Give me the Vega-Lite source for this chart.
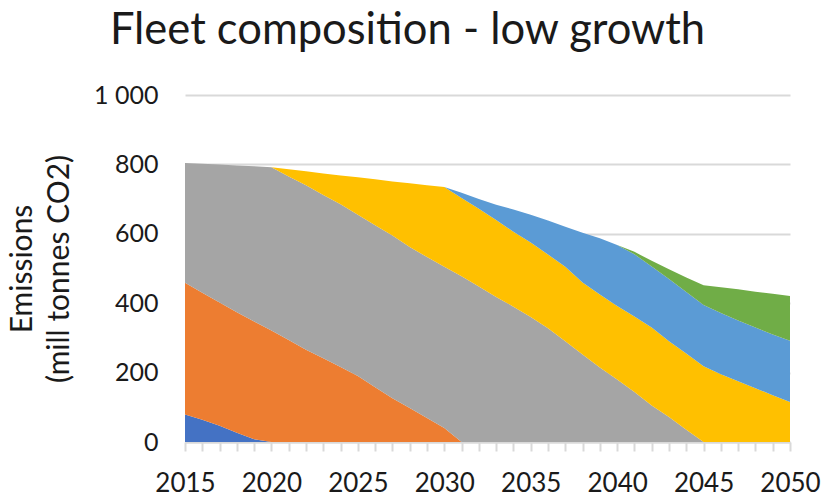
{
  "$schema": "https://vega.github.io/schema/vega-lite/v6.json",
  "autosize": "none",
  "width": 605,
  "height": 347,
  "padding": {"left": 185, "top": 95, "right": 35, "bottom": 59},
  "background": "white",
  "config": {"font": "Lato", "view": {"stroke": null}},
  "title": {
    "text": "Fleet composition - low growth",
    "fontSize": 43.5,
    "fontWeight": "normal",
    "color": "#1a1a1a",
    "anchor": "middle",
    "frame": "group",
    "dx": -80,
    "dy": -26
  },
  "data": {
    "values": [
      {"year": 2015, "Series1": 79, "Series2": 380, "Series3": 345, "Series4": 0, "Series5": 0, "Series6": 0},
      {"year": 2016, "Series1": 64, "Series2": 366, "Series3": 372, "Series4": 0, "Series5": 0, "Series6": 0},
      {"year": 2017, "Series1": 47, "Series2": 355, "Series3": 398, "Series4": 0, "Series5": 0, "Series6": 0},
      {"year": 2018, "Series1": 27, "Series2": 347, "Series3": 423, "Series4": 0, "Series5": 0, "Series6": 0},
      {"year": 2019, "Series1": 8, "Series2": 339, "Series3": 448, "Series4": 0, "Series5": 0, "Series6": 0},
      {"year": 2020, "Series1": 0, "Series2": 321, "Series3": 471, "Series4": 0, "Series5": 0, "Series6": 0},
      {"year": 2021, "Series1": 0, "Series2": 294, "Series3": 471, "Series4": 21, "Series5": 0, "Series6": 0},
      {"year": 2022, "Series1": 0, "Series2": 266, "Series3": 474, "Series4": 40, "Series5": 0, "Series6": 0},
      {"year": 2023, "Series1": 0, "Series2": 241, "Series3": 471, "Series4": 62, "Series5": 0, "Series6": 0},
      {"year": 2024, "Series1": 0, "Series2": 216, "Series3": 469, "Series4": 83, "Series5": 0, "Series6": 0},
      {"year": 2025, "Series1": 0, "Series2": 190, "Series3": 465, "Series4": 108, "Series5": 0, "Series6": 0},
      {"year": 2026, "Series1": 0, "Series2": 158, "Series3": 467, "Series4": 132, "Series5": 0, "Series6": 0},
      {"year": 2027, "Series1": 0, "Series2": 126, "Series3": 469, "Series4": 156, "Series5": 0, "Series6": 0},
      {"year": 2028, "Series1": 0, "Series2": 98, "Series3": 464, "Series4": 184, "Series5": 0, "Series6": 0},
      {"year": 2029, "Series1": 0, "Series2": 69, "Series3": 464, "Series4": 207, "Series5": 0, "Series6": 0},
      {"year": 2030, "Series1": 0, "Series2": 40, "Series3": 465, "Series4": 230, "Series5": 0, "Series6": 0},
      {"year": 2031, "Series1": 0, "Series2": 0, "Series3": 478, "Series4": 225, "Series5": 15, "Series6": 0},
      {"year": 2032, "Series1": 0, "Series2": 0, "Series3": 448, "Series4": 224, "Series5": 28, "Series6": 0},
      {"year": 2033, "Series1": 0, "Series2": 0, "Series3": 418, "Series4": 222, "Series5": 44, "Series6": 0},
      {"year": 2034, "Series1": 0, "Series2": 0, "Series3": 390, "Series4": 216, "Series5": 64, "Series6": 0},
      {"year": 2035, "Series1": 0, "Series2": 0, "Series3": 360, "Series4": 215, "Series5": 80, "Series6": 0},
      {"year": 2036, "Series1": 0, "Series2": 0, "Series3": 328, "Series4": 212, "Series5": 98, "Series6": 0},
      {"year": 2037, "Series1": 0, "Series2": 0, "Series3": 290, "Series4": 215, "Series5": 115, "Series6": 0},
      {"year": 2038, "Series1": 0, "Series2": 0, "Series3": 252, "Series4": 208, "Series5": 143, "Series6": 0},
      {"year": 2039, "Series1": 0, "Series2": 0, "Series3": 215, "Series4": 210, "Series5": 162, "Series6": 0},
      {"year": 2040, "Series1": 0, "Series2": 0, "Series3": 180, "Series4": 212, "Series5": 176, "Series6": 0},
      {"year": 2041, "Series1": 0, "Series2": 0, "Series3": 144, "Series4": 218, "Series5": 179, "Series6": 7},
      {"year": 2042, "Series1": 0, "Series2": 0, "Series3": 105, "Series4": 225, "Series5": 176, "Series6": 16},
      {"year": 2043, "Series1": 0, "Series2": 0, "Series3": 72, "Series4": 218, "Series5": 180, "Series6": 28},
      {"year": 2044, "Series1": 0, "Series2": 0, "Series3": 35, "Series4": 220, "Series5": 177, "Series6": 42},
      {"year": 2045, "Series1": 0, "Series2": 0, "Series3": 0, "Series4": 218, "Series5": 177, "Series6": 57},
      {"year": 2046, "Series1": 0, "Series2": 0, "Series3": 0, "Series4": 195, "Series5": 177, "Series6": 74},
      {"year": 2047, "Series1": 0, "Series2": 0, "Series3": 0, "Series4": 175, "Series5": 175, "Series6": 90},
      {"year": 2048, "Series1": 0, "Series2": 0, "Series3": 0, "Series4": 155, "Series5": 175, "Series6": 103},
      {"year": 2049, "Series1": 0, "Series2": 0, "Series3": 0, "Series4": 135, "Series5": 175, "Series6": 117},
      {"year": 2050, "Series1": 0, "Series2": 0, "Series3": 0, "Series4": 115, "Series5": 177, "Series6": 129}
    ]
  },
  "transform": [
    {"fold": ["Series1", "Series2", "Series3", "Series4", "Series5", "Series6"], "as": ["series", "value"]}
  ],
  "mark": {"type": "area", "opacity": 1},
  "encoding": {
    "x": {
      "field": "year",
      "type": "quantitative",
      "scale": {"domain": [2015, 2050], "nice": false, "zero": false},
      "axis": {
        "title": null,
        "values": [2015, 2016, 2017, 2018, 2019, 2020, 2021, 2022, 2023, 2024, 2025, 2026, 2027, 2028, 2029, 2030, 2031, 2032, 2033, 2034, 2035, 2036, 2037, 2038, 2039, 2040, 2041, 2042, 2043, 2044, 2045, 2046, 2047, 2048, 2049, 2050],
        "format": "d",
        "labelExpr": "datum.value % 5 === 0 ? datum.label : ''",
        "labelOverlap": false,
        "labelFlush": false,
        "grid": false,
        "domainColor": "#D9D9D9",
        "domainWidth": 2,
        "tickColor": "#D9D9D9",
        "tickWidth": 2,
        "tickSize": 9,
        "labelFontSize": 26,
        "labelColor": "#1a1a1a",
        "labelPadding": 19
      }
    },
    "y": {
      "field": "value",
      "type": "quantitative",
      "stack": "zero",
      "scale": {"domain": [0, 1000], "nice": false},
      "axis": {
        "values": [0, 200, 400, 600, 800, 1000],
        "labelExpr": "replace(format(datum.value, ','), ',', ' ')",
        "domain": false,
        "ticks": false,
        "grid": true,
        "gridColor": "#D9D9D9",
        "gridWidth": 2,
        "labelFontSize": 25,
        "labelColor": "#1a1a1a",
        "labelPadding": 27,
        "title": ["Emissions", "(mill tonnes CO2)"],
        "titleFontSize": 30,
        "titleFontWeight": "normal",
        "titleColor": "#1a1a1a",
        "titleLineHeight": 37,
        "titleAngle": -90,
        "titleAlign": "center",
        "titleBaseline": "top",
        "titleX": -178,
        "titleY": 173.5
      }
    },
    "color": {
      "field": "series",
      "type": "nominal",
      "scale": {
        "domain": ["Series1", "Series2", "Series3", "Series4", "Series5", "Series6"],
        "range": ["#4472C4", "#ED7D31", "#A5A5A5", "#FFC000", "#5B9BD5", "#70AD47"]
      },
      "legend": null
    },
    "order": {"field": "series", "sort": "ascending"}
  }
}
